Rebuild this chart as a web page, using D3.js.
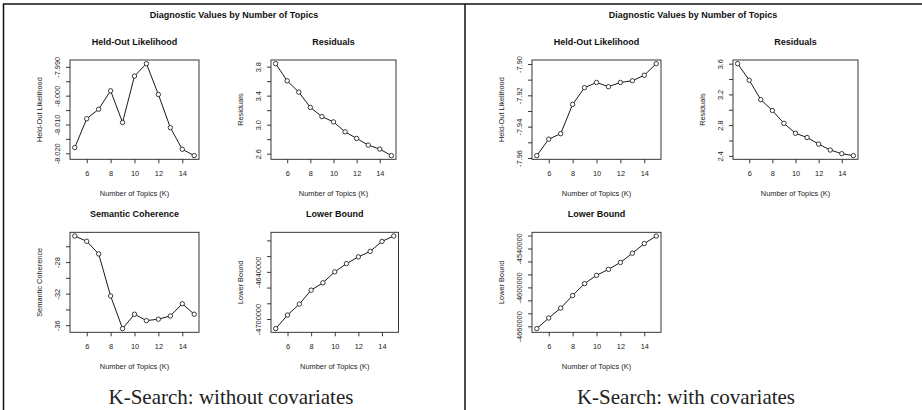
<!DOCTYPE html>
<html>
  <head>
    <meta charset="utf-8">
    <script src="https://d3js.org/d3.v7.min.js"></script>
    <title></title>
    <style>
    body {
      margin: 0;
      background-color: #fff;
    }
    svg {
      display: block;
    }
    .box {
      fill: none;
      stroke: #222;
      stroke-width: 0.9px;
    }
    .line {
      fill: none;
      stroke: #1a1a1a;
      stroke-width: 1px;
    }
    .axis text {
      fill: #222;
    }
    .axis line {
      stroke: #222;
      stroke-width: 0.9px;
    }
    </style>
  </head>
  <body>
    <script type="text/javascript">
      // number of topics on the x axis
      let topics = [5, 6, 7, 8, 9, 10, 11, 12, 13, 14, 15]
      let xTicks = [6, 8, 10, 12, 14]

      // K-search without covariates
      let heldoutA = [-8.0180, -8.0080, -8.0047, -7.9983, -8.0093, -7.9932, -7.9889, -7.9996, -8.0111, -8.0186, -8.0208]
      let residualsA = [3.841, 3.604, 3.449, 3.238, 3.111, 3.038, 2.901, 2.810, 2.718, 2.663, 2.573]
      let semcohA = [-24.70, -25.37, -26.97, -32.30, -36.43, -34.61, -35.42, -35.24, -34.83, -33.28, -34.61]
      let boundA = [-4712150, -4694940, -4681010, -4663290, -4653920, -4640000, -4629490, -4621010, -4613920, -4601270, -4594430]

      // K-search with covariates
      let heldoutB = [-7.9585, -7.9480, -7.9445, -7.9258, -7.9151, -7.9118, -7.9145, -7.9118, -7.9107, -7.9072, -7.8998]
      let residualsB = [3.600, 3.385, 3.132, 2.991, 2.823, 2.694, 2.639, 2.553, 2.476, 2.428, 2.403]
      let boundB = [-4663570, -4647245, -4631940, -4612550, -4594180, -4581430, -4572245, -4561530, -4547245, -4532450, -4520714]

      // y ticks and their labels (R skips labels that would overlap)
      let heldoutATicks = [-8.020, -8.015, -8.010, -8.005, -8.000, -7.995, -7.990]
      let heldoutALabels = ['-8.020', '', '-8.010', '', '-8.000', '', '-7.990']
      let residualsATicks = [2.6, 2.8, 3.0, 3.2, 3.4, 3.6, 3.8]
      let residualsALabels = ['2.6', '', '3.0', '', '3.4', '', '3.8']
      let semcohATicks = [-36, -34, -32, -30, -28, -26]
      let semcohALabels = ['-36', '', '-32', '', '-28', '']
      let boundATicks = [-4700000, -4680000, -4660000, -4640000, -4620000, -4600000]
      let boundALabels = ['-4700000', '', '', '-4640000', '', '']
      let heldoutBTicks = [-7.96, -7.95, -7.94, -7.93, -7.92, -7.91, -7.90]
      let heldoutBLabels = ['-7.96', '', '-7.94', '', '-7.92', '', '-7.90']
      let residualsBTicks = [2.4, 2.6, 2.8, 3.0, 3.2, 3.4, 3.6]
      let residualsBLabels = ['2.4', '', '2.8', '', '3.2', '', '3.6']
      let boundBTicks = [-4660000, -4640000, -4620000, -4600000, -4580000, -4560000, -4540000, -4520000]
      let boundBLabels = ['-4660000', '', '', '-4600000', '', '', '-4540000', '']

      let w = 922
      let h = 410
      let sans = 'Liberation Sans, Arial, Helvetica, sans-serif'
      let svg = d3.select('body')
                  .append('svg')
                  .attr('width', w)
                  .attr('height', h)

      // frame around the two figures
      svg.append('path')
         .attr('d', `M3.5,${h} L3.5,4 L${w},4 M465,4 L465,${h}`)
         .attr('fill', 'none')
         .attr('stroke', '#111')
         .attr('stroke-width', 1.5)

      let titles = [{x: 234, text: 'Diagnostic Values by Number of Topics'},
                    {x: 693, text: 'Diagnostic Values by Number of Topics'}]
      svg.selectAll('.main')
         .data(titles)
         .enter()
         .append('text')
         .attr('x', d => d.x)
         .attr('y', 18)
         .attr('text-anchor', 'middle')
         .style('font-family', sans)
         .style('font-weight', 'bold')
         .style('font-size', '9px')
         .style('fill', '#111')
         .text(d => d.text)

      let captions = [{x: 231, text: 'K-Search: without covariates'},
                      {x: 686, text: 'K-Search: with covariates'}]
      svg.selectAll('.caption')
         .data(captions)
         .enter()
         .append('text')
         .attr('x', d => d.x)
         .attr('y', 404)
         .attr('text-anchor', 'middle')
         .style('font-family', 'Liberation Serif, Times New Roman, serif')
         .style('font-size', '21px')
         .style('fill', '#222')
         .text(d => d.text)

      let plots = [
        {x0: 70, x1: 199, y0: 60, y1: 159.3, values: heldoutA, ticks: heldoutATicks, labels: heldoutALabels, title: 'Held-Out Likelihood', ylab: 'Held-Out Likelihood'},
        {x0: 271, x1: 396, y0: 60, y1: 159.3, values: residualsA, ticks: residualsATicks, labels: residualsALabels, title: 'Residuals', ylab: 'Residuals'},
        {x0: 70, x1: 199, y0: 232.3, y1: 332.3, values: semcohA, ticks: semcohATicks, labels: semcohALabels, title: 'Semantic Coherence', ylab: 'Semantic Coherence'},
        {x0: 271, x1: 398.5, y0: 232.3, y1: 332.3, values: boundA, ticks: boundATicks, labels: boundALabels, title: 'Lower Bound', ylab: 'Lower Bound'},
        {x0: 532, x1: 661, y0: 60, y1: 159.3, values: heldoutB, ticks: heldoutBTicks, labels: heldoutBLabels, title: 'Held-Out Likelihood', ylab: 'Held-Out Likelihood'},
        {x0: 733, x1: 858, y0: 60, y1: 159.3, values: residualsB, ticks: residualsBTicks, labels: residualsBLabels, title: 'Residuals', ylab: 'Residuals'},
        {x0: 532, x1: 661, y0: 232.3, y1: 332.3, values: boundB, ticks: boundBTicks, labels: boundBLabels, title: 'Lower Bound', ylab: 'Lower Bound'}
      ]

      // R style 4% padding around the data range
      let padded = ext => {
        let p = (ext[1] - ext[0]) * 0.04
        return [ext[0] - p, ext[1] + p]
      }

      plots.forEach(c => {
        let g = svg.append('g')
        let xScale = d3.scaleLinear()
                       .domain(padded(d3.extent(topics)))
                       .range([c.x0, c.x1])
        let yScale = d3.scaleLinear()
                       .domain(padded(d3.extent(c.values)))
                       .range([c.y1, c.y0])

        // x axis
        let gx = g.append('g')
                  .attr('class', 'axis')
                  .attr('transform', `translate(0, ${c.y1})`)
                  .call(d3.axisBottom(xScale)
                          .tickValues(xTicks)
                          .tickSize(4)
                          .tickSizeOuter(0)
                          .tickPadding(7)
                          .tickFormat(d3.format('d')))
        gx.select('.domain').remove()
        gx.attr('font-family', sans).attr('font-size', 7.4)

        // y axis, labels turned like R's default las = 0
        let gy = g.append('g')
                  .attr('class', 'axis')
                  .attr('transform', `translate(${c.x0}, 0)`)
                  .call(d3.axisLeft(yScale)
                          .tickValues(c.ticks)
                          .tickSize(4)
                          .tickSizeOuter(0)
                          .tickFormat((d, i) => c.labels[i]))
        gy.select('.domain').remove()
        gy.attr('font-family', sans).attr('font-size', 7.4)
        gy.selectAll('.tick text')
          .attr('x', 0)
          .attr('dy', 0)
          .attr('text-anchor', 'middle')
          .attr('transform', 'translate(-10, 0) rotate(-90)')

        g.append('rect')
         .attr('class', 'box')
         .attr('x', c.x0)
         .attr('y', c.y0)
         .attr('width', c.x1 - c.x0)
         .attr('height', c.y1 - c.y0)

        let valueline = d3.line()
                          .x((d, i) => xScale(topics[i]))
                          .y(d => yScale(d))
        g.append('path')
         .attr('class', 'line')
         .datum(c.values)
         .attr('d', valueline)

        g.selectAll('circle')
         .data(c.values)
         .enter()
         .append('circle')
         .attr('cx', (d, i) => xScale(topics[i]))
         .attr('cy', d => yScale(d))
         .attr('r', 2.2)
         .style('fill', '#fff')
         .style('stroke', '#1a1a1a')
         .style('stroke-width', 0.85)

        // plot title and axis titles
        g.append('text')
         .attr('x', (c.x0 + c.x1) / 2)
         .attr('y', c.y0 - 15)
         .attr('text-anchor', 'middle')
         .style('font-family', sans)
         .style('font-weight', 'bold')
         .style('font-size', '9px')
         .style('fill', '#111')
         .text(c.title)

        g.append('text')
         .attr('x', (c.x0 + c.x1) / 2)
         .attr('y', c.y1 + 36.5)
         .attr('text-anchor', 'middle')
         .style('font-family', sans)
         .style('font-size', '7.4px')
         .style('fill', '#222')
         .text('Number of Topics (K)')

        g.append('text')
         .attr('transform', `translate(${c.x0 - 28.5}, ${(c.y0 + c.y1) / 2}) rotate(-90)`)
         .attr('text-anchor', 'middle')
         .style('font-family', sans)
         .style('font-size', '7.4px')
         .style('fill', '#222')
         .text(c.ylab)
      })
    </script>
  </body>
</html>
